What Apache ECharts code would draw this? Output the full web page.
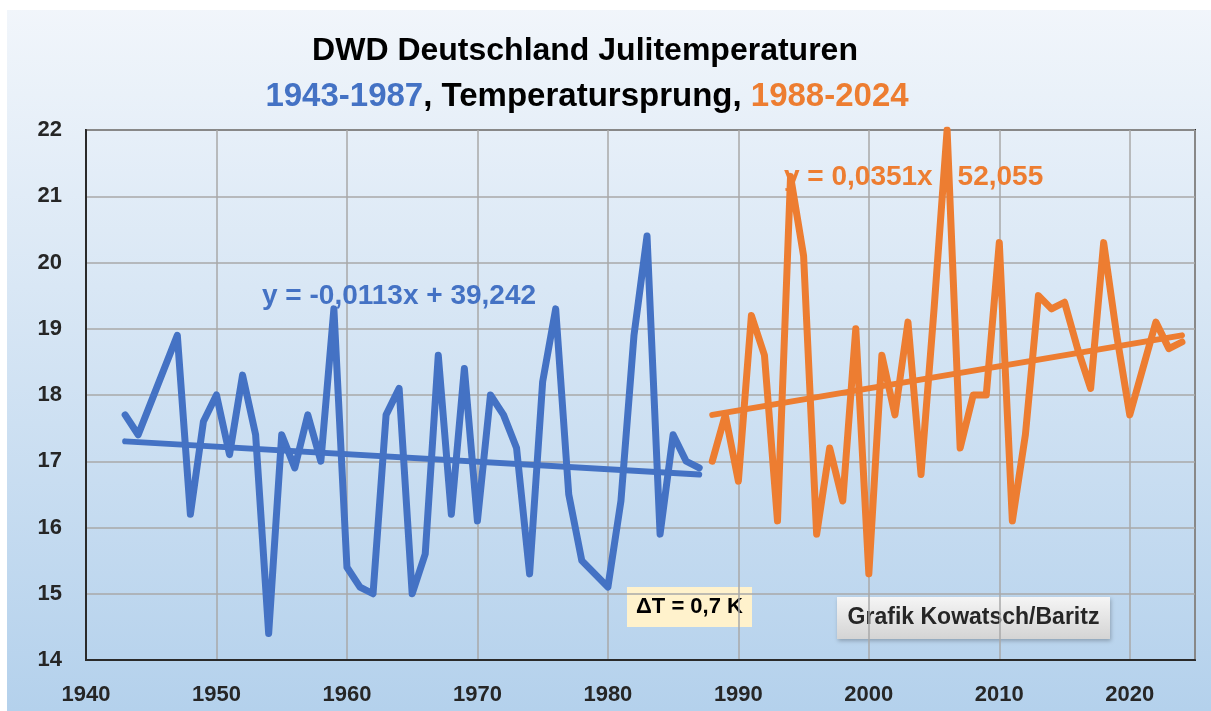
<!DOCTYPE html>
<html>
<head>
<meta charset="utf-8">
<script src="https://cdn.jsdelivr.net/npm/echarts@6/dist/echarts.min.js"></script>
<style>
  html, body { margin: 0; padding: 0; background: #fff; }
  #chart { width: 1211px; height: 711px; }
</style>
</head>
<body>
<div id="chart"></div>
<script>
  // Juli-Mittel Deutschland
  const yearsA = [1943, 1944, 1945, 1946, 1947, 1948, 1949, 1950, 1951, 1952, 1953, 1954, 1955, 1956, 1957,
    1958, 1959, 1960, 1961, 1962, 1963, 1964, 1965, 1966, 1967, 1968, 1969, 1970, 1971, 1972,
    1973, 1974, 1975, 1976, 1977, 1978, 1979, 1980, 1981, 1982, 1983, 1984, 1985, 1986, 1987]
  const tempA = [17.7, 17.4, 17.9, 18.4, 18.9, 16.2, 17.6, 18.0, 17.1, 18.3, 17.4, 14.4, 17.4, 16.9, 17.7,
    17.0, 19.3, 15.4, 15.1, 15.0, 17.7, 18.1, 15.0, 15.6, 18.6, 16.2, 18.4, 16.1, 18.0, 17.7,
    17.2, 15.3, 18.2, 19.3, 16.5, 15.5, 15.3, 15.1, 16.4, 18.9, 20.4, 15.9, 17.4, 17.0, 16.9]

  const yearsB = [1988, 1989, 1990, 1991, 1992, 1993, 1994, 1995, 1996, 1997, 1998, 1999, 2000, 2001, 2002,
    2003, 2004, 2005, 2006, 2007, 2008, 2009, 2010, 2011, 2012, 2013, 2014, 2015, 2016, 2017,
    2018, 2019, 2020, 2021, 2022, 2023, 2024]
  const tempB = [17.0, 17.7, 16.7, 19.2, 18.6, 16.1, 21.3, 20.1, 15.9, 17.2, 16.4, 19.0, 15.3, 18.6, 17.7,
    19.1, 16.8, 19.3, 22.0, 17.2, 18.0, 18.0, 20.3, 16.1, 17.4, 19.5, 19.3, 19.4, 18.7, 18.1,
    20.3, 18.9, 17.7, 18.4, 19.1, 18.7, 18.8]

  // Trendlinien (Endpunkte)
  const trendYearsA = [1943, 1987]
  const trendA = [17.3, 16.8]
  const trendYearsB = [1988, 2024]
  const trendB = [17.7, 18.9]

  const xTicks = { min: 1940, max: 2025, step: 10 }
  const yTicks = { min: 14, max: 22, step: 1 }

  const BLUE = '#4472C4'
  const ORANGE = '#ED7D31'
  const FONT = '"Liberation Sans", Arial, sans-serif'

  const zip = (xs, ys) => xs.map((x, i) => [x, ys[i]])

  const chart = echarts.init(document.getElementById('chart'))

  const option = {
    animation: false,
    backgroundColor: {
      type: 'linear', x: 0, y: 0, x2: 0, y2: 1,
      colorStops: [
        { offset: 0, color: '#F2F6FB' },
        { offset: 1, color: '#B4D1EC' }
      ]
    },
    grid: {
      left: 86, top: 130, right: 16, bottom: 51,
      show: true,
      borderColor: '#2A2A2A',
      borderWidth: 2,
      backgroundColor: 'transparent'
    },
    xAxis: {
      type: 'value',
      min: xTicks.min,
      max: xTicks.max,
      interval: xTicks.step,
      axisLine: { show: true, lineStyle: { color: '#2A2A2A', width: 2 } },
      axisTick: { show: false },
      splitLine: { show: true, lineStyle: { color: '#A8A8A8', width: 1.5 } },
      axisLabel: {
        showMaxLabel: false,
        formatter: v => String(v),
        margin: 24,
        color: '#262626',
        fontFamily: FONT,
        fontWeight: 'bold',
        fontSize: 22
      }
    },
    yAxis: {
      type: 'value',
      min: yTicks.min,
      max: yTicks.max,
      interval: yTicks.step,
      axisLine: { show: true, lineStyle: { color: '#2A2A2A', width: 2 } },
      axisTick: { show: false },
      splitLine: { show: true, lineStyle: { color: '#A8A8A8', width: 1.5 } },
      axisLabel: {
        margin: 24,
        color: '#262626',
        fontFamily: FONT,
        fontWeight: 'bold',
        fontSize: 22
      }
    },
    series: [
      {
        name: '1943-1987',
        type: 'line',
        data: zip(yearsA, tempA),
        symbol: 'none',
        lineStyle: { color: BLUE, width: 7, cap: 'round', join: 'round' }
      },
      {
        name: 'Trend 1943-1987',
        type: 'line',
        data: zip(trendYearsA, trendA),
        symbol: 'none',
        lineStyle: { color: BLUE, width: 6, cap: 'round' }
      },
      {
        name: '1988-2024',
        type: 'line',
        data: zip(yearsB, tempB),
        symbol: 'none',
        lineStyle: { color: ORANGE, width: 7, cap: 'round', join: 'round' }
      },
      {
        name: 'Trend 1988-2024',
        type: 'line',
        data: zip(trendYearsB, trendB),
        symbol: 'none',
        lineStyle: { color: ORANGE, width: 6, cap: 'round' }
      }
    ],
    graphic: [
      // weisser Rand oben/links
      { type: 'rect', left: 0, top: 0, shape: { width: 1211, height: 10 }, style: { fill: '#fff' }, z: 1 },
      { type: 'rect', left: 0, top: 0, shape: { width: 7, height: 711 }, style: { fill: '#fff' }, z: 1 },
      {
        type: 'text', x: 585, y: 51, z: 1,
        style: {
          text: 'DWD Deutschland Julitemperaturen',
          font: 'bold 32px ' + FONT,
          fill: '#000',
          align: 'center',
          verticalAlign: 'middle'
        }
      },
      {
        type: 'text', x: 587, y: 97, z: 1,
        style: {
          text: '{b|1943-1987}{k|, Temperatursprung, }{o|1988-2024}',
          align: 'center',
          verticalAlign: 'middle',
          rich: {
            b: { font: 'bold 33px ' + FONT, fill: BLUE },
            k: { font: 'bold 33px ' + FONT, fill: '#000' },
            o: { font: 'bold 33px ' + FONT, fill: ORANGE }
          }
        }
      },
      {
        type: 'text', x: 262, y: 296, z: 1,
        style: {
          text: 'y = -0,0113x + 39,242',
          font: 'bold 28px ' + FONT,
          fill: BLUE,
          align: 'left',
          verticalAlign: 'middle'
        }
      },
      {
        type: 'text', x: 784, y: 177, z: 1,
        style: {
          text: 'y = 0,0351x - 52,055',
          font: 'bold 28px ' + FONT,
          fill: ORANGE,
          align: 'left',
          verticalAlign: 'middle'
        }
      },
      {
        type: 'group', left: 627, top: 587, z: 10,
        children: [
          { type: 'rect', shape: { width: 125, height: 40 }, style: { fill: '#FFF2CC' } },
          {
            type: 'text', x: 62.5, y: 20,
            style: {
              text: 'ΔT = 0,7 K',
              font: 'bold 22px ' + FONT,
              fill: '#000',
              align: 'center',
              verticalAlign: 'middle'
            }
          }
        ]
      },
      {
        type: 'group', left: 837, top: 597, z: 10,
        children: [
          {
            type: 'rect', shape: { width: 273, height: 42 },
            style: {
              fill: {
                type: 'linear', x: 0, y: 0, x2: 0, y2: 1,
                colorStops: [{ offset: 0, color: '#F5F5F5' }, { offset: 1, color: '#D4D4D4' }]
              },
              shadowBlur: 4,
              shadowOffsetX: 1,
              shadowOffsetY: 2,
              shadowColor: 'rgba(0,0,0,0.25)'
            }
          },
          {
            type: 'text', x: 136.5, y: 21,
            style: {
              text: 'Grafik Kowatsch/Baritz',
              font: 'bold 23px ' + FONT,
              fill: '#262626',
              align: 'center',
              verticalAlign: 'middle'
            }
          }
        ]
      }
    ]
  }

  chart.setOption(option)
  window.addEventListener('resize', function () {
    chart.resize()
  })
</script>
</body>
</html>
